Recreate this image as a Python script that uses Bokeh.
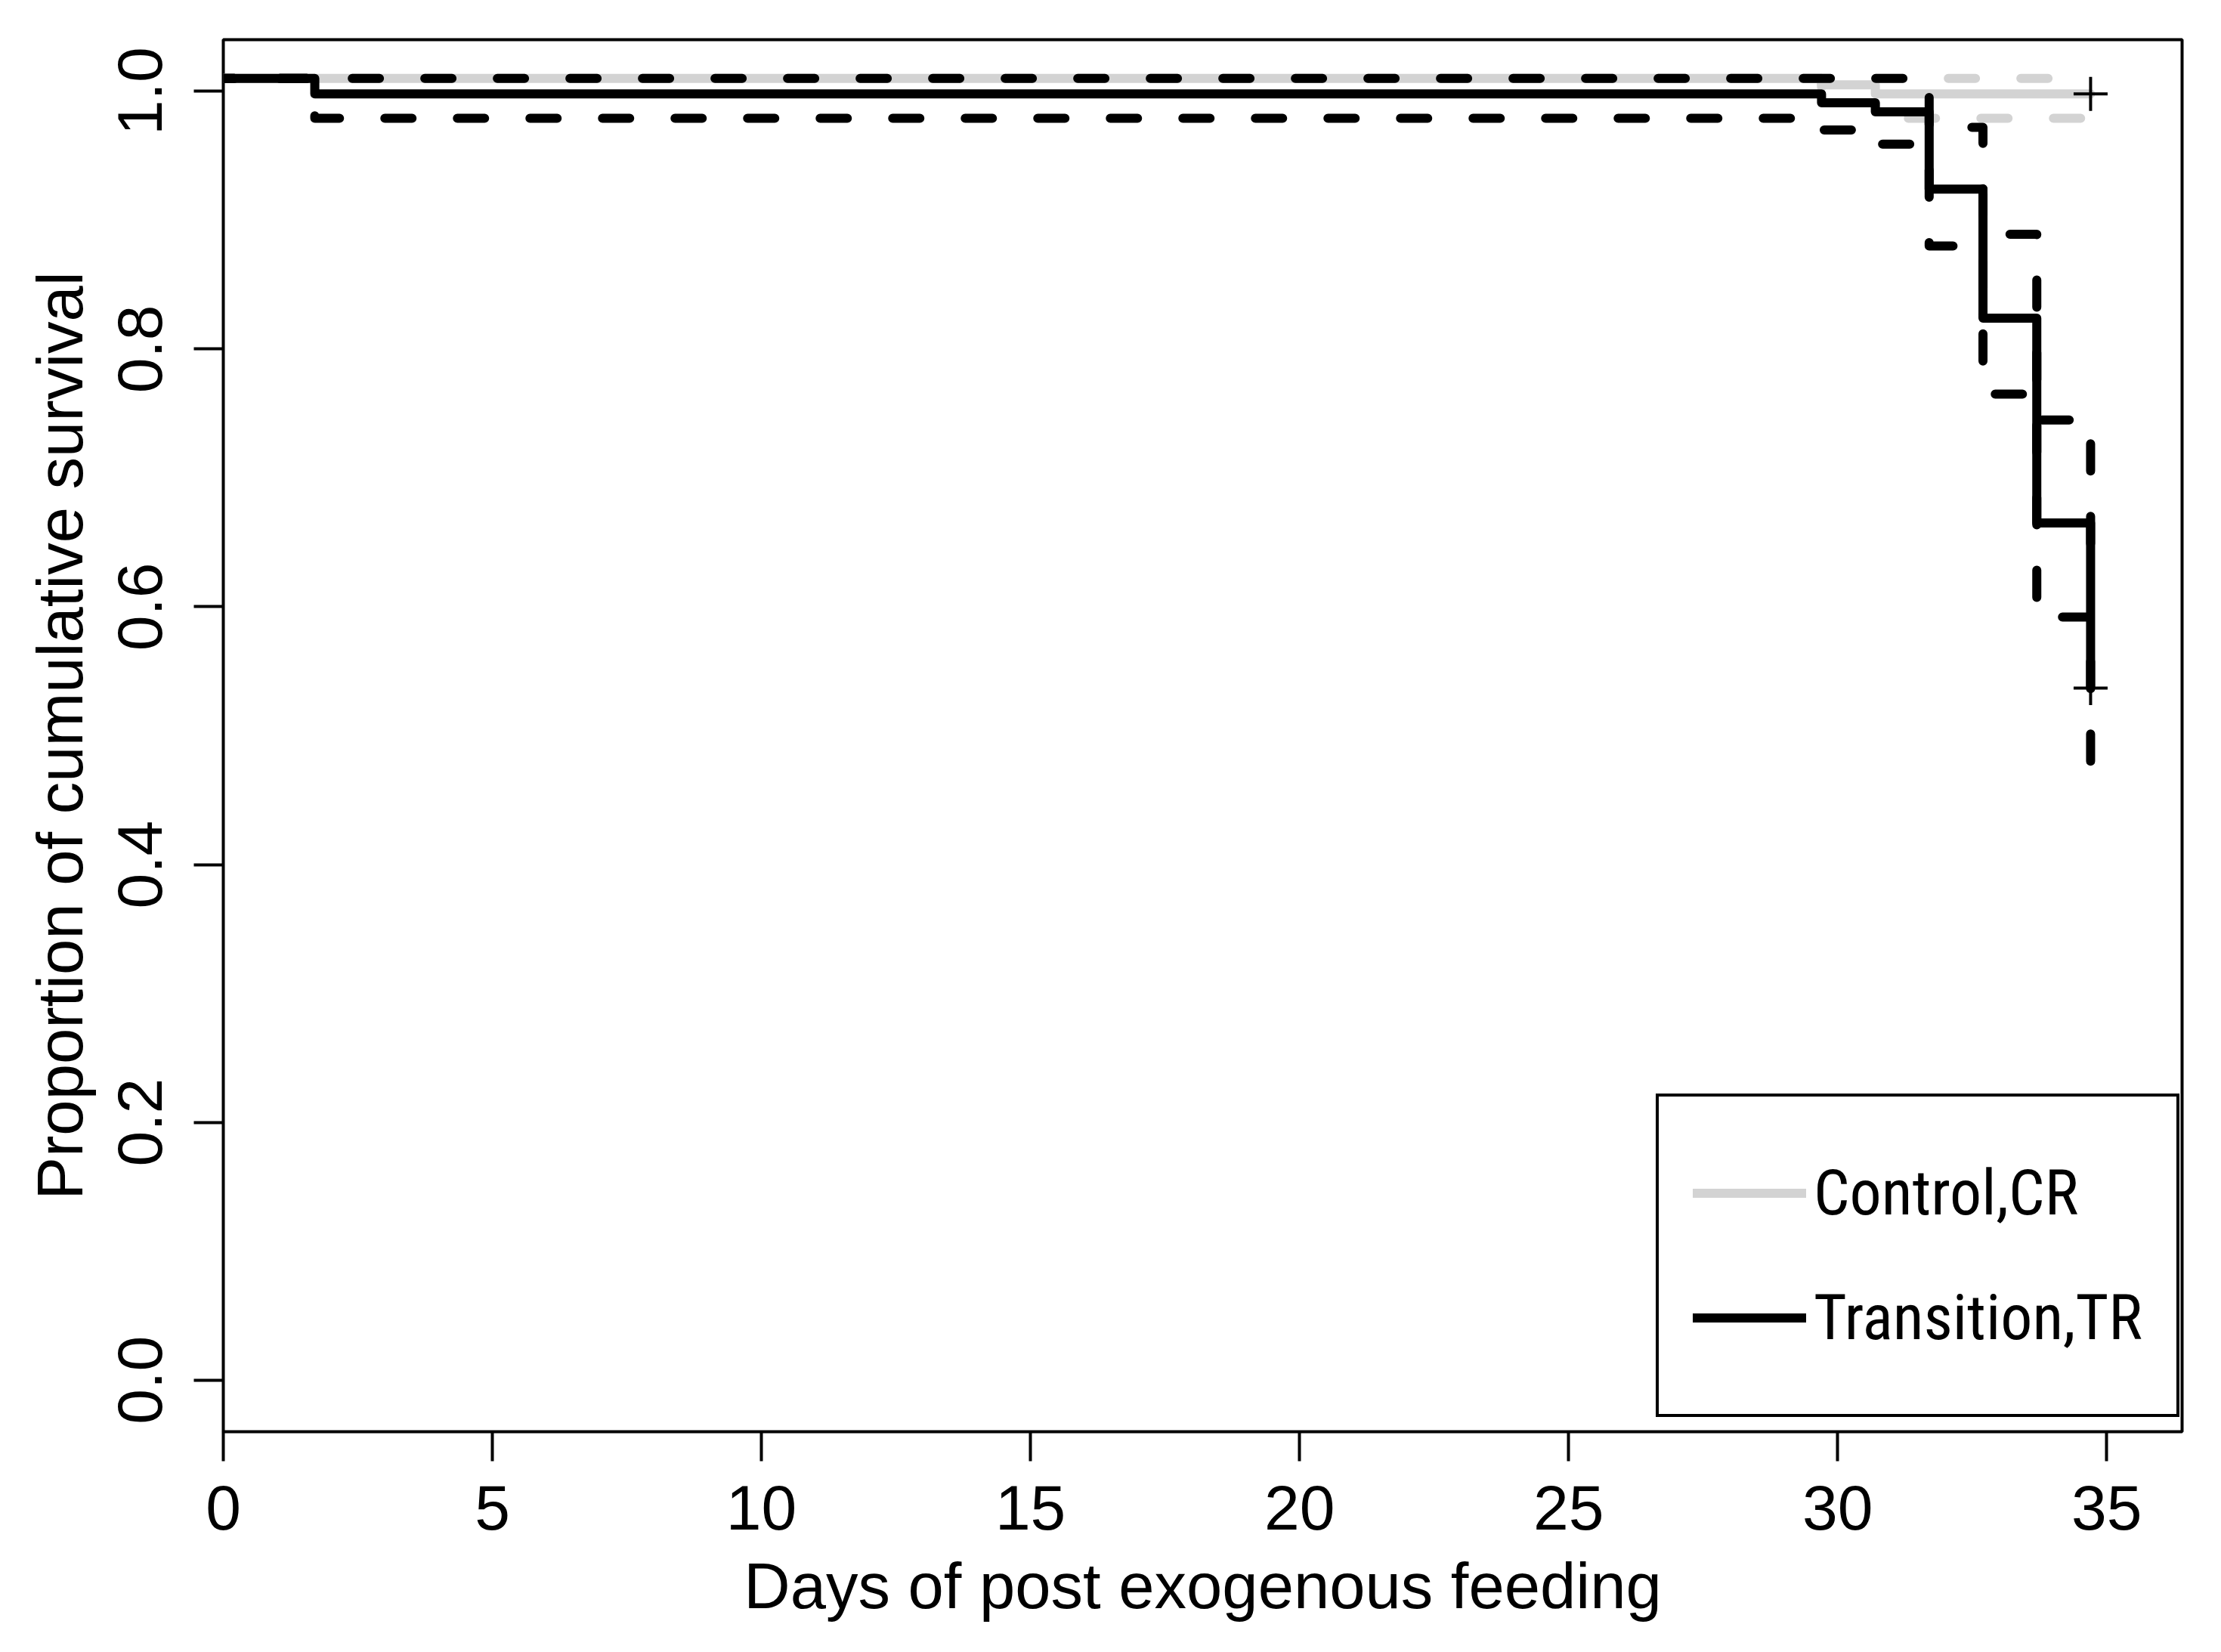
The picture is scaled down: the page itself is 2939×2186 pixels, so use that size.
from bokeh.plotting import figure
from bokeh.models import Range1d, FixedTicker, PrintfTickFormatter, Legend, LegendItem
from bokeh.embed import file_html
from bokeh.resources import INLINE

# ---- data ----
x_ticks = [0, 5, 10, 15, 20, 25, 30, 35]
y_ticks = [0.0, 0.2, 0.4, 0.6, 0.8, 1.0]

# Control, CR (grey)
cr_time = [-0.3, 29.7, 30.7, 34.7]
cr_surv = [1.010, 1.005, 0.998, 0.998]
cr_upper = [1.010, 1.010, 1.010, 1.010]
cr_lower = [1.010, 0.991, 0.979, 0.979]

# Transition, TR (black)
tr_time = [-0.3, 1.7, 29.7, 30.7, 31.7, 32.7, 33.7, 34.7]
tr_surv = [1.010, 0.998, 0.991, 0.984, 0.924, 0.824, 0.665, 0.537]
tr_upper = [1.010, 1.010, 1.010, 1.010, 0.972, 0.889, 0.745, 0.615]
tr_lower = [1.010, 0.979, 0.970, 0.959, 0.880, 0.765, 0.592, 0.470]

# censor marks (+) at the end of each curve
censor_time = [34.7, 34.7]
censor_surv = [0.998, 0.537]

labels = ["Control,CR", "Transition,TR"]
x_title = "Days of post exogenous feeding"
y_title = "Proportion of cumulative survival"

GREY = "#d3d3d3"
FONT = "Liberation Sans"
NARROW = "Roboto Condensed, Liberation Sans Narrow, Archivo Narrow, Liberation Sans"

X0, X1, Y0, Y1 = 0, 36.4, -0.04, 1.04

p = figure(width=2920, height=2170,
           x_range=Range1d(X0, X1), y_range=Range1d(Y0, Y1),
           output_backend="svg", toolbar_location=None,
           min_border_left=295, min_border_right=33,
           min_border_top=52, min_border_bottom=276)
p.grid.visible = False
p.background_fill_color = "white"
p.border_fill_color = "white"
p.outline_line_color = "black"
p.outline_line_width = 4

common = dict(mode="after", line_width=12, line_cap="round", line_join="round")

r_cr = p.step(cr_time, cr_surv, line_color=GREY, **common)
p.step(cr_time, cr_upper, line_color=GREY, line_dash="36 60", **common)
p.step(cr_time, cr_lower, line_color=GREY, line_dash="36 60", **common)

r_tr = p.step(tr_time, tr_surv, line_color="black", **common)
p.step(tr_time, tr_upper, line_color="black", line_dash="36 60", **common)
p.step(tr_time, tr_lower, line_color="black", line_dash="36 60", **common)

p.scatter(censor_time, censor_surv, marker="cross", size=45,
          line_color="black", line_width=4)

# axes
p.xaxis.ticker = FixedTicker(ticks=x_ticks)
p.yaxis.ticker = FixedTicker(ticks=y_ticks)
p.yaxis.formatter = PrintfTickFormatter(format="%.1f")
p.axis.axis_line_color = None
p.axis.major_tick_in = 0
p.axis.major_tick_out = 39
p.axis.major_tick_line_width = 4
p.axis.major_tick_line_color = "black"
p.axis.minor_tick_line_color = None
p.axis.major_label_text_font = FONT
p.axis.major_label_text_font_size = "84px"
p.axis.major_label_text_color = "black"
p.yaxis.major_label_orientation = "vertical"
p.xaxis.major_label_standoff = 32
p.yaxis.major_label_standoff = 42

p.xaxis.axis_label = x_title
p.yaxis.axis_label = y_title
p.axis.axis_label_text_font = FONT
p.axis.axis_label_text_font_size = "85px"
p.axis.axis_label_text_font_style = "normal"
p.axis.axis_label_text_color = "black"
p.xaxis.axis_label_standoff = 24
p.yaxis.axis_label_standoff = 27

legend = Legend(
    items=[LegendItem(label=labels[0], renderers=[r_cr]),
           LegendItem(label=labels[1], renderers=[r_tr])],
    location=(1896, 19),
    border_line_color="black", border_line_width=4, border_line_alpha=1.0,
    background_fill_color="white", background_fill_alpha=1.0,
    padding=45, spacing=0, margin=0,
    glyph_width=150, glyph_height=165, label_height=165,
    label_standoff=10,
    label_text_font=NARROW,
    label_text_font_size="84px",
    label_text_color="black",
)
p.add_layout(legend)

open("out.html", "w").write(file_html(p, INLINE))
